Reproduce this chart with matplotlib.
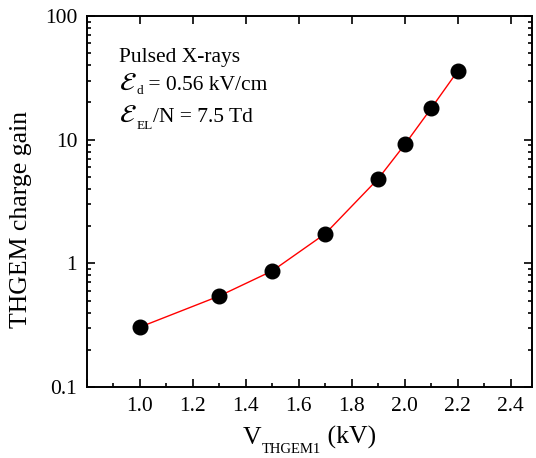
import matplotlib
matplotlib.use("Agg")
import matplotlib.pyplot as plt
from matplotlib.ticker import MultipleLocator, LogLocator, NullFormatter, FixedLocator, FixedFormatter

# THGEM charge gain vs THGEM1 voltage (pulsed X-rays)
voltage_kv = [1.0, 1.3, 1.5, 1.7, 1.9, 2.0, 2.1, 2.2]
gain = [0.305, 0.545, 0.87, 1.74, 4.85, 9.15, 18.0, 36.0]

y_ticks = [0.1, 1, 10, 100]
y_ticklabels = ["0.1", "1", "10", "100"]

plt.rcParams["font.family"] = ["Liberation Serif", "DejaVu Serif"]
plt.rcParams["mathtext.fontset"] = "stix"

W, H = 536, 458
fig = plt.figure(figsize=(W / 100, H / 100), dpi=100)
ax = fig.add_axes([87 / W, 1 - 387 / H, (532 - 87) / W, (387 - 16) / H])

ax.plot(voltage_kv, gain, color="red", lw=1.0, zorder=2)
ax.plot(voltage_kv, gain, "o", color="black", ms=10.5, zorder=3)

ax.set_yscale("log")
ax.set_xlim(0.8, 2.48)
ax.set_ylim(0.1, 100)

ax.xaxis.set_major_locator(MultipleLocator(0.2))
ax.xaxis.set_minor_locator(MultipleLocator(0.1))
ax.xaxis.set_major_formatter(plt.FuncFormatter(lambda v, p: f"{v:.1f}" if v > 0.95 else ""))
ax.yaxis.set_major_locator(FixedLocator(y_ticks))
ax.yaxis.set_major_formatter(FixedFormatter(y_ticklabels))
ax.yaxis.set_minor_locator(LogLocator(base=10, subs=range(2, 10)))
ax.yaxis.set_minor_formatter(NullFormatter())

ax.tick_params(which="both", direction="in", top=True, right=True, labelsize=15.5, width=1.2)
ax.tick_params(which="major", length=6, pad=7)
ax.tick_params(which="minor", length=3, top=False)
for s in ax.spines.values():
    s.set_linewidth(1.4)

ax.set_ylabel("THGEM charge gain", fontsize=18.5)
ax.yaxis.set_label_coords(-0.124, 0.452)

renderer = fig.canvas.get_renderer()


def text_run(x_px, base_px, pieces, center=False):
    # pieces: (string, fontsize, drop in px below baseline)
    arts = []
    for s, fs, dy in pieces:
        t = fig.text(0, 0, s, fontsize=fs, va="baseline", ha="left")
        arts.append((t, dy))
    widths = [t.get_window_extent(renderer).width for t, _ in arts]
    x = x_px - sum(widths) / 2 if center else x_px
    for (t, dy), w in zip(arts, widths):
        t.set_position((x / W, 1 - (base_px + dy) / H))
        x += w


# x axis label with small subscript
text_run(309.5, 444, [("V", 18.5, 0), ("THGEM1", 10.5, 9), (" (kV)", 18.5, 0)], center=True)

# annotation block
text_run(119, 62, [("Pulsed X-rays", 15.5, 0)])
text_run(119, 90, [(r"$\mathcal{E}$", 19, 0), ("d", 9.5, 4), (" = 0.56 kV/cm", 15.5, 0)])
text_run(119, 122, [(r"$\mathcal{E}$", 19, 0), ("EL", 9.5, 7), ("/N = 7.5 Td", 15.5, 0)])

fig.savefig("out.png", dpi=100)
